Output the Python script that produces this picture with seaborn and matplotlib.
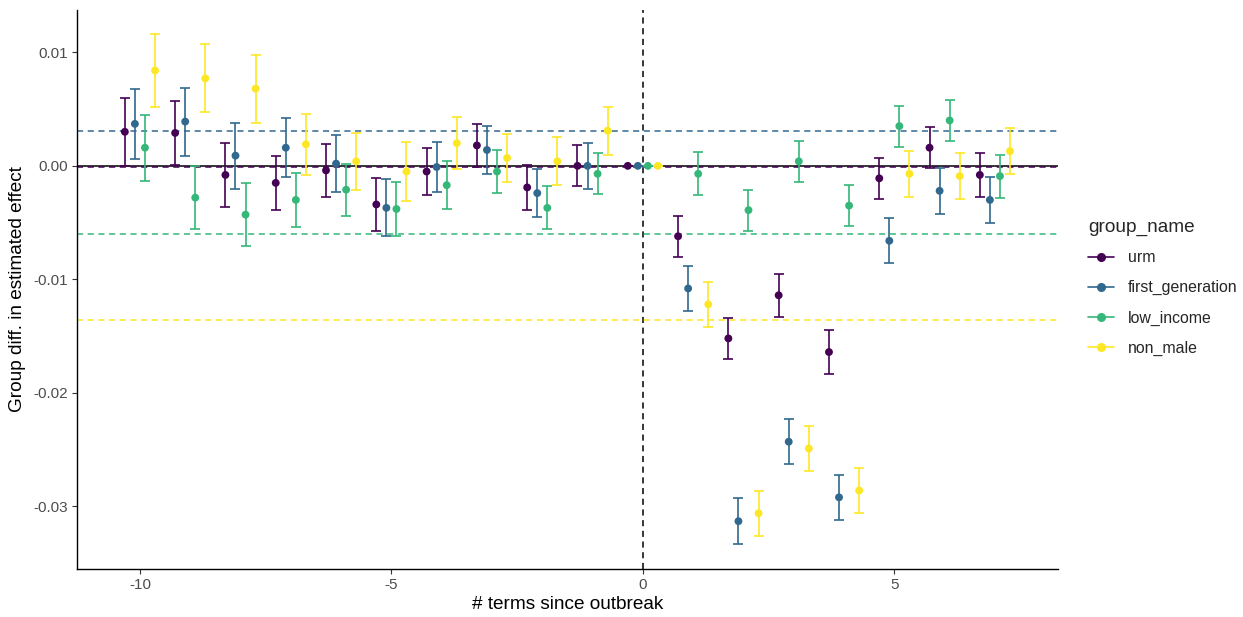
import numpy as np
import pandas as pd
import matplotlib
matplotlib.use("Agg")
import matplotlib.pyplot as plt
from matplotlib.lines import Line2D
import seaborn as sns

# Event-time grid (terms relative to outbreak)
terms = [-10, -9, -8, -7, -6, -5, -4, -3, -2, -1, 0, 1, 2, 3, 4, 5, 6, 7]
groups = ["urm", "first_generation", "low_income", "non_male"]
palette = ["#440154", "#31688E", "#35B779", "#FDE725"]

# Estimated group differences per term
est_urm = [0.0030, 0.0029, -0.0008, -0.0015, -0.0004, -0.0034, -0.0005, 0.0018, -0.0019, 0.0000,
           0.0, -0.0062, -0.0152, -0.0114, -0.0164, -0.0011, 0.0016, -0.0008]
est_first_generation = [0.0037, 0.0039, 0.0009, 0.0016, 0.0002, -0.0037, -0.0001, 0.0014, -0.0024, 0.0000,
                        0.0, -0.0108, -0.0313, -0.0243, -0.0292, -0.0066, -0.0022, -0.0030]
est_low_income = [0.0016, -0.0028, -0.0043, -0.0030, -0.0021, -0.0038, -0.0017, -0.0005, -0.0037, -0.0007,
                  0.0, -0.0007, -0.0039, 0.0004, -0.0035, 0.0035, 0.0040, -0.0009]
est_non_male = [0.0084, 0.0077, 0.0068, 0.0019, 0.0004, -0.0005, 0.0020, 0.0007, 0.0004, 0.0031,
                0.0, -0.0122, -0.0306, -0.0249, -0.0286, -0.0007, -0.0009, 0.0013]

# Half-widths of the 95% intervals
ci_urm = [0.0030, 0.0028, 0.0028, 0.0024, 0.0023, 0.0023, 0.0021, 0.0019, 0.0020, 0.0018,
          0.0, 0.0018, 0.0018, 0.0019, 0.0019, 0.0018, 0.0018, 0.0019]
ci_first_generation = [0.0031, 0.0030, 0.0029, 0.0026, 0.0025, 0.0025, 0.0022, 0.0021, 0.0021, 0.0020,
                       0.0, 0.0020, 0.0020, 0.0020, 0.0020, 0.0020, 0.0020, 0.0020]
ci_low_income = [0.0029, 0.0028, 0.0028, 0.0024, 0.0023, 0.0024, 0.0021, 0.0019, 0.0019, 0.0018,
                 0.0, 0.0019, 0.0018, 0.0018, 0.0018, 0.0018, 0.0018, 0.0019]
ci_non_male = [0.0032, 0.0030, 0.0030, 0.0027, 0.0025, 0.0026, 0.0023, 0.0021, 0.0021, 0.0021,
               0.0, 0.0020, 0.0020, 0.0020, 0.0020, 0.0020, 0.0020, 0.0020]

# Reference level per group (dashed horizontal lines)
ref_levels = [-0.0001, 0.0031, -0.0060, -0.01357]

est = {"urm": est_urm, "first_generation": est_first_generation,
       "low_income": est_low_income, "non_male": est_non_male}
ci = {"urm": ci_urm, "first_generation": ci_first_generation,
      "low_income": ci_low_income, "non_male": ci_non_male}

dodge_width = 0.8
n = len(groups)
offsets = {g: (i - (n - 1) / 2) * dodge_width / n for i, g in enumerate(groups)}

rows = []
for g in groups:
    for t, v, c in zip(terms, est[g], ci[g]):
        rows.append({"term": t, "x": t + offsets[g], "estimate": v, "ci": c, "group_name": g})
df = pd.DataFrame(rows)

sns.set_theme(style="ticks")
plt.rcParams["font.family"] = ["Liberation Sans", "DejaVu Sans"]

fig = plt.figure(figsize=(12.43, 6.17), dpi=100)
ax = fig.add_axes([0.062, 0.078, 0.789, 0.906])

ax.axhline(0, color="black", lw=1.1, zorder=1)
ax.axvline(0, color="black", lw=1.1, ls=(0, (4, 3)), zorder=1)
for lvl, col in zip(ref_levels, palette):
    ax.axhline(lvl, color=col, lw=1.1, ls=(0, (4, 3)), zorder=1)

for g, col in zip(groups, palette):
    sub = df[df["group_name"] == g]
    ax.errorbar(sub["x"], sub["estimate"], yerr=sub["ci"], fmt="none",
                ecolor=col, elinewidth=1.2, capsize=3.3, capthick=1.2, zorder=2)

sns.scatterplot(data=df, x="x", y="estimate", hue="group_name", hue_order=groups,
                palette=palette, s=32, edgecolor="none", legend=False, ax=ax, zorder=3)

ax.set_xlim(-11.25, 8.25)
ax.set_ylim(-0.0355, 0.01374)
ax.set_xticks([-10, -5, 0, 5])
ax.set_xticklabels(["-10", "-5", "0", "5"])
ax.set_yticks([-0.03, -0.02, -0.01, 0.0, 0.01])
ax.set_yticklabels(["-0.03", "-0.02", "-0.01", "0.00", "0.01"])
ax.tick_params(axis="both", labelcolor="#4D4D4D", labelsize=11, length=3.5, width=0.8,
               color="#333333", pad=3)
for s in ["left", "bottom"]:
    ax.spines[s].set_linewidth(1.0)
    ax.spines[s].set_color("black")
sns.despine(ax=ax)

ax.set_xlabel("# terms since outbreak", fontsize=13.7, color="black", labelpad=3)
ax.set_ylabel("Group diff. in estimated effect", fontsize=13.7, color="black", labelpad=5)

handles = [Line2D([0], [0], color=c, lw=1.2, marker="o", markersize=5.5) for c in palette]
leg = fig.legend(handles, groups, title="group_name", loc="center left",
                 bbox_to_anchor=(0.8705, 0.534), frameon=False, fontsize=11.4,
                 title_fontsize=13.7, handlelength=1.6, handletextpad=0.9,
                 labelspacing=0.95, borderaxespad=0)
leg._legend_box.align = "left"
leg._legend_box.sep = 10

fig.savefig("out.png", dpi=100)
